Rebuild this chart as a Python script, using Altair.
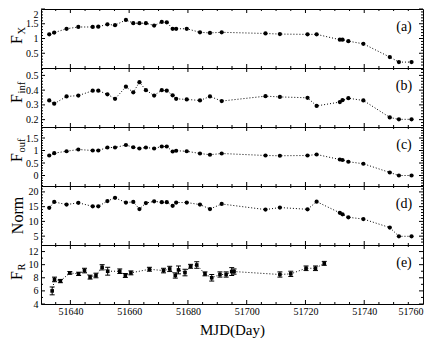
import altair as alt
import pandas as pd

# ---------------- data ----------------
mjd_x = [51632.8, 51634.5, 51638.7, 51642.7, 51647.6, 51649.5, 51652.6, 51655.2,
         51658.9, 51661.4, 51663.5, 51665.7, 51668.5, 51671.1, 51672.8, 51674.8,
         51676.0, 51679.6, 51684.1, 51687.5, 51691.5, 51706.4, 51711.3, 51720.7,
         51723.8, 51731.7, 51732.6, 51734.6, 51739.7, 51748.7, 51751.8, 51756.1]
f_x = [1.14, 1.20, 1.33, 1.39, 1.39, 1.40, 1.48, 1.45, 1.63, 1.52, 1.52, 1.52,
       1.44, 1.56, 1.55, 1.33, 1.33, 1.33, 1.21, 1.19, 1.21, 1.17, 1.15, 1.14,
       1.14, 0.96, 0.96, 0.91, 0.82, 0.37, 0.20, 0.20]
f_inf = [0.330, 0.308, 0.357, 0.363, 0.396, 0.396, 0.372, 0.341, 0.423, 0.385,
         0.454, 0.400, 0.363, 0.400, 0.396, 0.365, 0.341, 0.337, 0.330, 0.357,
         0.326, 0.359, 0.354, 0.348, 0.293, 0.319, 0.332, 0.345, 0.330, 0.215,
         0.202, 0.202]
f_ouf = [0.80, 0.895, 0.97, 1.04, 1.00, 1.00, 1.12, 1.12, 1.22, 1.13, 1.08, 1.12,
         1.08, 1.16, 1.16, 0.96, 0.99, 0.97, 0.88, 0.83, 0.88, 0.80, 0.79, 0.80,
         0.84, 0.64, 0.62, 0.55, 0.47, 0.12, 0.00, 0.00]
norm = [14.6, 16.6, 15.7, 16.3, 15.1, 15.1, 16.9, 18.0, 16.4, 16.6, 14.2, 16.2,
        16.8, 16.5, 16.5, 15.3, 16.4, 16.4, 15.7, 14.2, 15.9, 14.0, 14.7, 14.1,
        16.7, 12.9, 12.4, 11.4, 10.8, 7.9, 4.95, 4.95]

mjd_r = [51633.8, 51634.6, 51636.6, 51639.8, 51642.8, 51644.8, 51646.7, 51648.7,
         51650.8, 51652.7, 51656.8, 51658.7, 51660.6, 51666.9, 51671.7, 51673.8,
         51675.7, 51676.8, 51679.0, 51680.9, 51683.0, 51685.8, 51688.1, 51690.9,
         51693.0, 51694.9, 51695.7, 51711.3, 51715.0, 51720.2, 51723.4, 51726.4]
f_r = [6.0, 7.75, 7.5, 8.75, 8.6, 9.1, 8.1, 8.35, 9.6, 9.0, 9.0, 8.35, 8.75, 9.3,
       9.1, 9.35, 8.35, 9.2, 8.8, 9.75, 9.95, 8.6, 8.0, 8.5, 8.5, 8.95, 8.95, 8.5,
       8.6, 9.45, 9.45, 10.2]
f_r_err = [0.6, 0.35, 0.25, 0.2, 0.25, 0.35, 0.3, 0.35, 0.4, 0.6, 0.35, 0.3, 0.3,
           0.3, 0.35, 0.4, 0.4, 0.6, 0.5, 0.3, 0.5, 0.3, 0.5, 0.4, 0.4, 0.6, 0.4,
           0.4, 0.4, 0.35, 0.35, 0.3]

x_labels = [51640, 51660, 51680, 51700, 51720, 51740, 51760]
x_major = [51640, 51660, 51680, 51700, 51720, 51740]
x_minor = [51635, 51645, 51650, 51655, 51665, 51670, 51675, 51685, 51690, 51695,
           51705, 51710, 51715, 51725, 51730, 51735, 51745, 51750, 51755]

# ---------------- layout / style ----------------
W = 382
H = 59
FONT = "Liberation Serif"
XDOM = [51630, 51760]
MAJ = 4
MIN = 2


def panel(times, vals, ydom, ylab, ymin, letter, main, sub,
          bottom=False, errs=None, flush=False):
    xscale = alt.Scale(domain=XDOM, nice=False, zero=False)
    yscale = alt.Scale(domain=ydom, nice=False, zero=False)
    if bottom:
        xaxis = alt.Axis(values=x_labels, format="d", ticks=False, tickSize=0,
                         domain=False, grid=False, labelFont=FONT,
                         labelFontSize=10, labelPadding=2, labelColor="black",
                         labelOverlap=False,
                         title="MJD(Day)", titleFont=FONT, titleFontSize=15,
                         titleFontWeight="normal", titlePadding=6,
                         titleColor="black")
    else:
        xaxis = None
    yaxis = alt.Axis(values=ylab, format="~g", ticks=False, tickSize=0,
                     domain=False, grid=False, labelFont=FONT, labelFontSize=10,
                     labelPadding=3, labelColor="black", title=None,
                     labelOverlap=False, labelFlush=flush)

    def X(f):
        return alt.X(f, scale=xscale, axis=xaxis)

    def Y(f):
        return alt.Y(f, scale=yscale, axis=yaxis)

    cols = {"t": times, "v": vals}
    if errs is not None:
        cols["e"] = errs
    df = pd.DataFrame(cols)
    base = alt.Chart(df)

    layers = [base.mark_line(color="black", strokeWidth=1, strokeDash=[1, 2]).encode(
        x=X("t:Q"), y=Y("v:Q"))]

    if errs is not None:
        eb = base.transform_calculate(lo="datum.v - datum.e", hi="datum.v + datum.e")
        layers.append(eb.mark_rule(color="black", strokeWidth=1).encode(
            x=X("t:Q"), y=Y("lo:Q"), y2="hi:Q"))
        for c in ["lo", "hi"]:
            layers.append(eb.mark_tick(color="black", orient="horizontal", size=5,
                                       thickness=1, opacity=1).encode(
                x=X("t:Q"), y=Y(c + ":Q")))
        layers.append(base.mark_square(color="black", size=13, opacity=1).encode(
            x=X("t:Q"), y=Y("v:Q")))
    else:
        layers.append(base.mark_circle(color="black", size=18, opacity=1).encode(
            x=X("t:Q"), y=Y("v:Q")))

    # inward tick marks on all four sides
    for vals_, ln in [(x_major, MAJ), (x_minor, MIN)]:
        d = pd.DataFrame({"t": vals_})
        layers.append(alt.Chart(d).mark_rule(color="black", strokeWidth=1).encode(
            x=X("t:Q"), y=alt.value(0), y2=alt.value(ln)))
        layers.append(alt.Chart(d).mark_rule(color="black", strokeWidth=1).encode(
            x=X("t:Q"), y=alt.value(H), y2=alt.value(H - ln)))
    for vals_, ln in [(ylab, MAJ), (ymin, MIN)]:
        d = pd.DataFrame({"v": vals_})
        layers.append(alt.Chart(d).mark_rule(color="black", strokeWidth=1).encode(
            y=Y("v:Q"), x=alt.value(0), x2=alt.value(ln)))
        layers.append(alt.Chart(d).mark_rule(color="black", strokeWidth=1).encode(
            y=Y("v:Q"), x=alt.value(W), x2=alt.value(W - ln)))

    lab = alt.Chart(alt.Data(values=[{"s": letter}])).mark_text(
        font=FONT, fontSize=14, color="black", align="center", baseline="middle"
    ).encode(text="s:N", x=alt.value(W - 19), y=alt.value(17.5))
    layers.append(lab)

    if sub:
        t_main = alt.Chart(alt.Data(values=[{"s": main}])).mark_text(
            font=FONT, fontSize=16, color="black", angle=270, align="center",
            baseline="middle"
        ).encode(text="s:N", x=alt.value(-24), y=alt.value(H / 2 + 1))
        t_sub = alt.Chart(alt.Data(values=[{"s": sub}])).mark_text(
            font=FONT, fontSize=10.5, color="black", angle=270, align="left",
            baseline="middle"
        ).encode(text="s:N", x=alt.value(-19.5), y=alt.value(H / 2 - 4))
        layers += [t_main, t_sub]
    else:
        t_main = alt.Chart(alt.Data(values=[{"s": main}])).mark_text(
            font=FONT, fontSize=16, color="black", angle=270, align="center",
            baseline="middle"
        ).encode(text="s:N", x=alt.value(-23), y=alt.value(H / 2))
        layers.append(t_main)

    return alt.layer(*layers).properties(width=W, height=H)


ya_min = [v / 10 for v in range(1, 20) if v % 5 != 0]
yb_min = [round(0.16 + 0.02 * i, 2) for i in range(0, 20)]
yb_min = [v for v in yb_min if round(v * 100) % 10 != 0 and v < 0.55]
yc_min = [round(-0.4 + 0.1 * i, 1) for i in range(0, 24)]
yc_min = [v for v in yc_min if round(v * 10) % 5 != 0]
yd_min = [v for v in range(3, 22) if v % 5 != 0]
ye_min = [5, 7, 9, 11]

pa = panel(mjd_x, f_x, [0, 2], [0.5, 1, 1.5, 2], ya_min, "(a)", "F", "X", flush=True)
pb = panel(mjd_x, f_inf, [0.15, 0.55], [0.2, 0.3, 0.4, 0.5], yb_min, "(b)", "F", "inf")
pc = panel(mjd_x, f_ouf, [-0.42, 1.94], [0, 0.5, 1, 1.5], yc_min, "(c)", "F", "ouf")
pd_ = panel(mjd_x, norm, [2, 22], [5, 10, 15, 20], yd_min, "(d)", "Norm", None)
pe = panel(mjd_r, f_r, [4, 13], [4, 6, 8, 10, 12], ye_min, "(e)", "F", "R",
           bottom=True, errs=f_r_err)

chart = alt.vconcat(pa, pb, pc, pd_, pe, spacing=0, bounds="flush").configure_view(
    stroke="black", strokeWidth=1
).properties(padding=0, background="white")

chart.save("out.html", embed_options={"renderer": "svg", "actions": False})
